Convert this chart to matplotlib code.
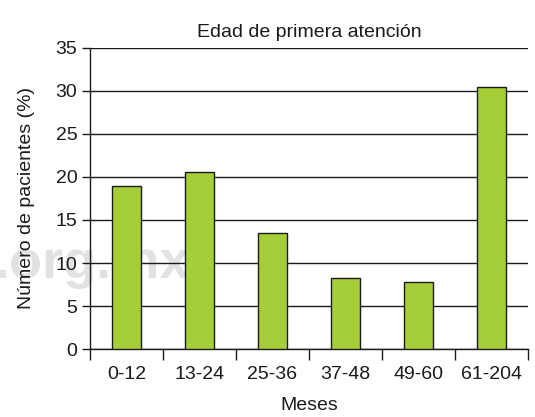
import matplotlib
matplotlib.use('Agg')
import matplotlib.pyplot as plt
import numpy as np

# datos
categorias = ['0-12', '13-24', '25-36', '37-48', '49-60', '61-204']
porcentajes = [19.0, 20.6, 13.5, 8.2, 7.8, 30.5]

plt.rcParams['font.family'] = ['Liberation Sans', 'DejaVu Sans']

fig = plt.figure(figsize=(5.35, 4.17), dpi=100)
ax = fig.add_axes([0.168, 0.163, 0.819, 0.722])

# marca de agua (detrás de todo)
fig.text(-0.01, 0.333, '.org.mx', fontsize=39, fontweight='bold',
         color='#e2e2e2', zorder=-1)
ax.set_facecolor('none')

x = np.arange(len(categorias))
ax.bar(x, porcentajes, width=0.4, color='#a6ce39', edgecolor='#1a1a1a',
       linewidth=1.0, zorder=3)

ax.set_ylim(0, 35)
ax.set_xlim(-0.5, len(categorias) - 0.5)
ax.set_yticks(range(0, 36, 5))
ax.yaxis.grid(True, color='#1a1a1a', linewidth=1.0, zorder=1)
ax.set_axisbelow(True)

ax.set_xticks(x)
ax.set_xticklabels(categorias)
ax.set_xticks(np.arange(-0.5, len(categorias)), minor=True)
ax.tick_params(axis='x', which='major', length=0, pad=12, labelsize=14, colors='#1a1a1a')
ax.tick_params(axis='x', which='minor', length=8, width=1.0, direction='out', color='#1a1a1a')
ax.tick_params(axis='y', length=6, width=1.0, labelsize=14, colors='#1a1a1a', pad=3)

for s in ['top', 'right']:
    ax.spines[s].set_visible(False)
for s in ['left', 'bottom']:
    ax.spines[s].set_linewidth(1.0)
    ax.spines[s].set_color('#1a1a1a')

ax.set_title('Edad de primera atención', fontsize=14, color='#1a1a1a', pad=8)
ax.set_xlabel('Meses', fontsize=14, color='#1a1a1a', labelpad=10)
ax.set_ylabel('Número de pacientes (%)', fontsize=14, color='#1a1a1a', labelpad=15)

plt.savefig('out.png', dpi=100)
